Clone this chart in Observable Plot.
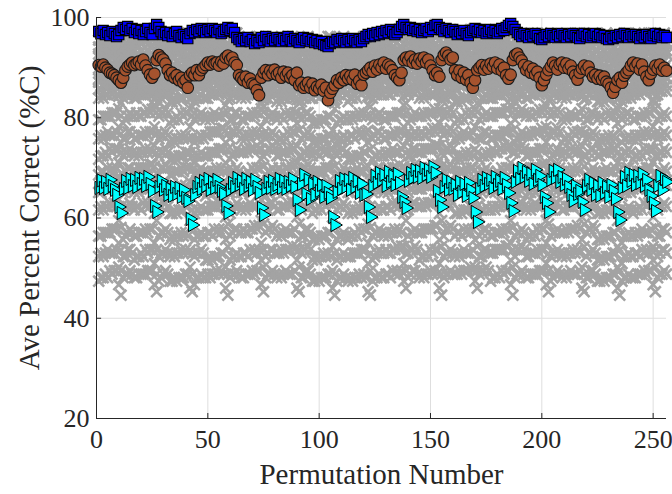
<!DOCTYPE html>
<html><head><meta charset="utf-8">
<script src="https://cdn.jsdelivr.net/npm/d3@7"></script>
<script src="https://cdn.jsdelivr.net/npm/@observablehq/plot@0.6"></script>
<style>html,body{margin:0;padding:0;background:#fff;}</style>
</head><body><div id="chart"></div>
<script>
// ---- tick labels ----
const xTicks = [0, 50, 100, 150, 200, 250];
const yTicks = [20, 40, 60, 80, 100];

// ---- highlighted series (permutation 1..256, rows of 16) ----
const blueSquares = [
97.2,96.8,97.4,96.6,97,96.4,97.2,96.8,96.2,96.6,97.4,98,97.6,98.2,97.4,97.8,
97,97.6,96.8,97.4,96.6,97.2,97.8,97,96.6,97.8,98.6,98,97.2,96.6,97,96.4,
97,96.2,96.8,97.2,96.4,96,96.6,96.2,95.8,96.8,97.4,97,97.6,97.2,97.8,97.4,
97,97.6,97.2,97.8,97.4,97,97.6,96.8,97.2,97.6,98,97.4,97.8,97,96,95.6,
95.2,95.8,95.4,96,95.2,95.6,94.8,95.4,95,96,95.4,96.2,95.6,95.2,95.8,95.4,
96,95.6,95.2,95.8,95.4,96.2,95.6,95.2,95.8,95.4,95,95.6,96,95.4,95.8,95.2,
95.6,95,95.4,94.8,95.2,94.6,94.4,94.2,94.8,95.2,95,95.6,95.2,95.8,95.4,95,
95.6,95.2,95.8,95.4,95,95.6,95.2,95.8,96.2,96.6,96.2,96.8,96.4,97,96.6,97.2,
96.8,97.4,97,97.6,97.2,96.6,97,97.6,98.2,98.6,98,97.6,98,97.4,97.8,97.2,
97.6,97,97.4,97.8,97.2,98,97.6,98.4,98.6,98,97.6,97.2,97.8,97.4,97,97.6,
97.2,96.6,97.2,96.8,97.4,96.8,96.4,97,97.4,97.8,97.2,97.6,97,97.4,96.8,97.2,
97.6,97,97.4,96.8,97.2,97.8,97.4,98,98.4,98.8,98.2,97.6,97,96.6,96.2,96.8,
96.4,96,96.6,96.2,96.8,96.4,95.8,95.6,96,96.6,96.2,96.8,96.4,96,96.6,96.2,
96.8,96.4,96,96.6,96.2,96.8,96.4,96,95.8,96.4,96.8,96.2,96.6,96,96.4,96.8,
96.2,96.6,96,96.4,95.8,95.6,96.2,95.8,96.4,96,96.6,96.2,96.8,96.4,96,96.6,
96.2,96.6,96.2,95.8,96.4,96,96.6,96.2,95.8,96.4,96.8,96.2,96.6,96,96.4,96
];
const brownCircles = [
90.5,90.2,90.6,90,89.6,89,88.8,88.5,88,87.5,87,88,89.5,90.2,90.6,91,
90.5,90.8,91.2,90.6,91.6,90.4,89.5,88.6,88,88.8,91.5,92.5,92,91.6,90.8,89.5,
88.5,89,88,88.5,87.5,88,87,87.5,86,88.5,89,88.5,89.5,88.5,89.5,90,
90.5,91,90.6,91.2,90.8,91,90.4,91.2,90.8,92,92.4,91.6,92,91,90.5,88.5,
88,87.5,88.2,87,87.8,86.8,86.5,85.5,84.5,88,89,89.5,88.5,89.4,88.8,89.6,
88.6,89,88,89.2,88.4,89,88,88.5,87.5,89,86.5,87,86,86.5,87,86,
86.8,85.5,86.2,85.8,86.6,85.4,86,83.5,85,85.8,86.5,87.5,87,88,87.5,88.5,
87.8,88.4,87.6,88.6,86.8,87.4,86.5,88.6,89,89.5,90,89.2,90.4,89.6,90.6,90,
91,89.8,90.6,90.2,89.5,88.5,88,87.5,89,91.5,92,91.4,92.2,91,91.6,90.8,
91.8,91.2,92,91,91.6,90.4,89.5,88.5,89,88.2,91.5,92.5,93,92.4,91.6,92,
89.5,88.5,89.4,88,89,87.6,88.5,87,86,87.5,89.5,90,90.5,89.6,90.4,89.8,
90.8,90.2,91,89.8,90.6,89.4,90,88.5,87.8,88.6,91.5,92.5,92.8,92,91.4,90.5,
89.5,90.2,89,89.8,88.6,89.2,88,86.5,87.5,88.6,89.5,90.2,91,90.4,89.6,90.6,
91,90,90.8,89.8,90.4,89.2,88.5,87.6,89,89.8,90.4,89.6,90.2,89,88.2,88.6,
87.8,88.4,87.6,88.2,87.2,86.8,86,85,86.2,87.5,88,87,88.4,89,89.5,90.4,
91,90.2,90.8,89.6,90.6,89.2,88.2,87.5,88.8,89.6,90.4,89.8,90.6,89.4,90,89.4
];
const cyanTriangles = [
66,67.5,66,67.2,65.8,67.6,66.4,65.6,64.6,62.2,61,65.8,67.4,66,67.8,66.4,
67.6,66.2,68,66.8,67.8,66.4,68.2,66.8,65.4,62.4,61.2,66.2,67.4,65.6,66.4,64.6,
65.8,64.4,66.2,64.8,66,64.2,65.6,64,63.4,59.8,58.6,64.6,66.2,67,65.8,67.4,
66.4,67.8,65.6,67.2,66,67.6,66.2,65.4,64.8,62.4,61,65.6,67,66.2,68,66.6,
67.4,65.8,67.8,66.4,67.2,65.6,67.6,66.2,65,62,60.6,65.8,67.2,66,67.4,65.8,
66.6,67.8,66,67.4,65.8,67.2,66.4,67.8,66.2,63.6,61.6,66.8,68.6,64.8,67.6,63.8,
66.8,64.6,67.2,65.4,66.6,64.2,66.4,65,64,60.2,58.6,65.2,67.4,65.8,67.8,66.2,
67.6,65.6,68,66.2,67.4,65,66.8,64.6,64.8,62.2,60.2,66.4,68.4,67,69,67.6,
68.6,66.4,69.2,67.2,68.4,66.6,68.8,67,64.2,63.2,62,67.4,69,68,69.6,68.2,
69.4,68,70,68.6,69.6,68.2,70.2,69,65.4,63.6,62.2,66.2,67.6,65.6,67.2,65.8,
66.6,64.6,67.2,65.2,66.8,64.4,67,65.6,64,61.2,59.2,65.8,67.6,66.4,68,66.8,
67.6,66,68.2,66.6,67.4,65.8,68,66.6,65,63,61.4,67.2,69.4,67.8,70,68.2,
69.2,67.4,68.8,66.8,69.6,67.6,68.4,66.6,64.2,63,61.2,67.6,69.4,68,69.6,67.2,
68.2,66.6,67.8,66.2,64.6,63.4,66.4,64.8,65.4,63.2,61.6,66.4,67.6,65.6,67,64.6,
66.4,64.4,67,65,66.2,64.2,66.6,65.4,63.8,61.2,59.6,66,68.2,66.4,69,67.4,
68.6,66.6,68.4,67,68.8,66.4,67.6,65.6,64.4,63,61.4,66.4,68.4,65.6,67.8,67.2
];

// ---- gray series: level of each, and per-permutation offsets (digit d -> level + (d-6)*grayStep) ----
const grayLevels = [96.2, 94.8, 93.4, 92, 90.6, 89.2, 87.8, 86.4, 84.6, 80.3, 76.5, 73.1, 69.3, 65.8, 62.3, 57.1, 53, 48.8];
const grayStep = 0.7;
const grayOffsets = [
"5566676773156676 5656676762056676 5566667773145676 5656766672155776 4454555662045565 4545565651045565 4454555662135565 4454555662045565 6676777874267787 6766778783167787 6677777884257787 5566676773156676 5656676762056676 5566667773145676 5656766672155776 4556576773056676",
"5656676762056676 6676777874267787 5656766672155776 5566667773145676 4545565651045565 4454555662045565 4454555662135565 4556576773056676 6766778783167787 6677777884257787 5665767674256776 5566676773156676 5566667773145676 5656676762056676 4556576773056676 5656766672155776",
"5566667773145676 4556576773056676 5566676773156676 5665767674256776 4454555662135565 5656676762056676 4454555662045565 4545565651045565 5656766672155776 6676777874267787 6766778783167787 5566667773145676 5566676773156676 5665767674256776 4556576773056676 5656676762056676",
"6676777874267787 5566676773156676 5665767674256776 6766778783167787 5656676762056676 5566667773145676 4454555662045565 5656766672155776 4556576773056676 6677777884257787 5656676762056676 6676777874267787 5665767674256776 5656766672155776 5566676773156676 6766778783167787",
"5656766672155776 6677777884257787 4454555662045565 4556576773056676 5665767674256776 4545565651045565 4454555662135565 5566676773156676 6676777874267787 6766778783167787 5566667773145676 6677777884257787 5656676762056676 4556576773056676 4454555662045565 5665767674256776",
"4556576773056676 5665767674256776 4545565651045565 5566676773156676 4454555662135565 5656766672155776 4454555662045565 5656676762056676 6766778783167787 5566667773145676 4545565651045565 5665767674256776 5656766672155776 5566676773156676 4454555662135565 5566667773145676",
"5665767674256776 5656766672155776 4454555662135565 6676777874267787 4454555662045565 4556576773056676 5656676762056676 5566667773145676 6677777884257787 5566676773156676 5665767674256776 6766778783167787 4556576773056676 4545565651045565 5656766672155776 5566676773156676",
"5566676773156676 4454555662045565 5656676762056676 5665767674256776 4545565651045565 4454555662135565 5656766672155776 4556576773056676 5566667773145676 6676777874267787 5566676773156676 5656676762056676 6677777884257787 5665767674256776 4454555662045565 5656766672155776",
"5656676762056676 5566667773145676 4454555662045565 5566676773156676 5656766672155776 4545565651045565 5665767674256776 4556576773056676 6766778783167787 5656766672155776 4454555662135565 5566667773145676 5566676773156676 5656676762056676 4454555662045565 6676777874267787",
"5566667773145676 6766778783167787 4556576773056676 5656766672155776 5566676773156676 5665767674256776 4454555662045565 5656676762056676 5566667773145676 6676777874267787 4556576773056676 6677777884257787 6766778783167787 5656766672155776 5665767674256776 5566676773156676",
"5656766672155776 5566676773156676 4545565651045565 6677777884257787 5656676762056676 4556576773056676 4454555662135565 5665767674256776 5566676773156676 6766778783167787 5656766672155776 5566667773145676 6676777874267787 4556576773056676 4545565651045565 5656676762056676",
"4556576773056676 5656676762056676 4454555662135565 5566667773145676 6676777874267787 5566676773156676 5665767674256776 4454555662045565 5656766672155776 6677777884257787 4545565651045565 6766778783167787 5566667773145676 5665767674256776 5566676773156676 4556576773056676",
"5665767674256776 6677777884257787 5566676773156676 5656676762056676 4556576773056676 6766778783167787 5566667773145676 5656766672155776 6676777874267787 6766778783167787 5566676773156676 4556576773056676 6677777884257787 5656676762056676 5656766672155776 5566667773145676",
"5566676773156676 5656766672155776 5656676762056676 4556576773056676 5566667773145676 5665767674256776 6676777874267787 5566676773156676 5656676762056676 6677777884257787 5566667773145676 5656766672155776 4556576773056676 5665767674256776 4454555662045565 6766778783167787",
"5656676762056676 5665767674256776 4454555662045565 5566667773145676 5656766672155776 5566676773156676 4556576773056676 4545565651045565 5665767674256776 6676777874267787 4454555662135565 5656676762056676 5656766672155776 5566667773145676 4454555662045565 4556576773056676",
"5566667773145676 5566676773156676 4545565651045565 5665767674256776 6766778783167787 5656766672155776 4454555662045565 4556576773056676 5656676762056676 6677777884257787 5665767674256776 5566676773156676 4556576773056676 6676777874267787 4454555662135565 5656766672155776",
"5656766672155776 4556576773056676 5656676762056676 4454555662045565 5665767674256776 6676777874267787 4545565651045565 5566667773145676 6766778783167787 4556576773056676 5656766672155776 6677777884257787 5566676773156676 5656676762056676 4454555662135565 5665767674256776",
"4556576773056676 5566667773145676 4454555662135565 5656676762056676 5566676773156676 5656766672155776 4454555662045565 4545565651045565 5665767674256776 5656676762056676 6676777874267787 4556576773056676 5566667773145676 5656766672155776 4454555662045565 5566676773156676"
];

const xLabel = "Permutation Number";
const yLabel = "Ave Percent Correct (%C)";

// ---- build tables ----
const gray = grayOffsets.flatMap((s, k) =>
  s.replace(/\s+/g, "").split("").map((c, i) => ({perm: i + 1, val: grayLevels[k] + (+c - 6) * grayStep, series: k}))
);
const rows = arr => arr.map((v, i) => ({perm: i + 1, val: v}));

// right-pointing triangle symbol
const triRight = {
  draw(context, size) {
    const h = Math.sqrt(size / (Math.sqrt(3) * 3));
    context.moveTo(2 * h, 0);
    context.lineTo(-h, -Math.sqrt(3) * h);
    context.lineTo(-h, Math.sqrt(3) * h);
    context.closePath();
  }
};

const ink = "#262626";
const serif = "'Liberation Serif', 'Times New Roman', Times, serif";

const chart = Plot.plot({
  width: 672,
  height: 494,
  marginLeft: 96,
  marginRight: 6,
  marginTop: 17,
  marginBottom: 76,
  x: {domain: [0, 256]},
  y: {domain: [20, 100]},
  style: {fontFamily: serif, fontSize: "26px", color: ink, background: "#fff", overflow: "visible"},
  marks: [
    Plot.gridX(xTicks, {stroke: "#dedede", strokeOpacity: 1}),
    Plot.gridY(yTicks, {stroke: "#dedede", strokeOpacity: 1}),
    Plot.dot(gray, {x: "perm", y: "val", symbol: "times", r: 5, stroke: "#a3a3a3", strokeWidth: 2.6}),
    Plot.dot(rows(cyanTriangles), {x: "perm", y: "val", symbol: triRight, r: 4.9, fill: "#00ffff", stroke: "#000", strokeWidth: 1}),
    Plot.dot(rows(brownCircles), {x: "perm", y: "val", symbol: "circle", r: 5.8, fill: "#a5532e", stroke: "#1a1a1a", strokeWidth: 1.1}),
    Plot.dot(rows(blueSquares), {x: "perm", y: "val", symbol: "square", r: 5.8, fill: "#0000ff", stroke: "#000", strokeWidth: 1.1}),
    Plot.ruleX(xTicks, {y1: 20, y2: 21, stroke: ink}),
    Plot.ruleY(yTicks, {x1: 0, x2: 2.3, stroke: ink}),
    Plot.ruleX([0], {stroke: ink}),
    Plot.ruleY([20], {stroke: ink}),
    Plot.axisX(xTicks, {tickSize: 0, tickPadding: 11, fontSize: 26, label: null, fill: ink}),
    Plot.axisY(yTicks, {tickSize: 0, tickPadding: 7, fontSize: 26, label: null, fill: ink}),
    Plot.text([yLabel], {text: d => d, frameAnchor: "left", dx: -67, rotate: -90, textAnchor: "middle", lineAnchor: "middle", fontSize: 29, fill: ink}),
    Plot.text([xLabel], {text: d => d, frameAnchor: "bottom", dy: 56, textAnchor: "middle", lineAnchor: "middle", fontSize: 29, fill: ink})
  ]
});
document.getElementById("chart").appendChild(chart);
</script>
</body></html>
